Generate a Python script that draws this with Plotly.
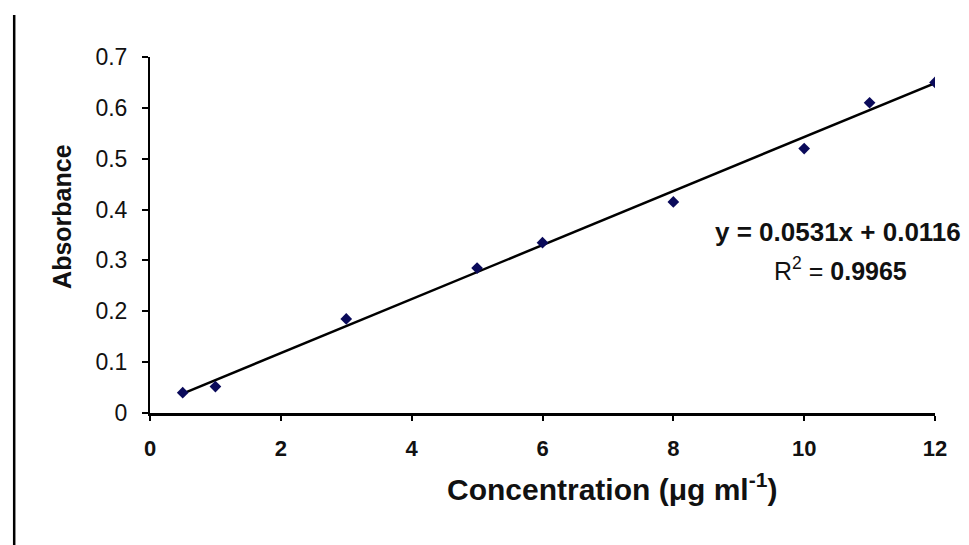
import plotly.graph_objects as go

# Data
concentration = [0.5, 1, 3, 5, 6, 8, 10, 11, 12]
absorbance = [0.040, 0.052, 0.185, 0.285, 0.335, 0.415, 0.520, 0.610, 0.650]
slope = 0.0531
intercept = 0.0116
r_squared = 0.9965
x_ticks = [0, 2, 4, 6, 8, 10, 12]
y_ticks = [0, 0.1, 0.2, 0.3, 0.4, 0.5, 0.6, 0.7]

trend_x = [min(concentration), max(concentration)]
trend_y = [slope * v + intercept for v in trend_x]

FONT = "Liberation Sans, Arial, sans-serif"

fig = go.Figure()
fig.add_trace(go.Scatter(
    x=trend_x, y=trend_y, mode="lines",
    line=dict(color="black", width=2.5), showlegend=False, hoverinfo="skip"))
fig.add_trace(go.Scatter(
    x=concentration, y=absorbance, mode="markers",
    marker=dict(symbol="diamond", size=9, color="#0a0a5a"),
    showlegend=False))

# page body has an 8px margin, so the figure is sized/offset accordingly
fig.update_layout(
    width=961, height=537,
    margin=dict(l=142, r=34, t=49, b=132),
    paper_bgcolor="white", plot_bgcolor="white",
    font=dict(family=FONT, color="#111"),
    xaxis=dict(range=[0, 12], tickvals=x_ticks, showgrid=False, zeroline=False,
               showline=True, linecolor="black", linewidth=3,
               ticks="outside", ticklen=5, tickwidth=2, tickcolor="black",
               tickfont=dict(size=22, family=FONT, weight="bold"), ticklabelstandoff=9),
    yaxis=dict(range=[0, 0.7], tickvals=y_ticks, showgrid=False, zeroline=False,
               showline=True, linecolor="black", linewidth=2,
               ticks="outside", ticklen=6, tickwidth=2, tickcolor="black",
               tickfont=dict(size=23, family=FONT), ticklabelstandoff=10),
    annotations=[
        dict(text="<b>Absorbance</b>", xref="paper", yref="paper", x=-0.112, y=0.551,
             textangle=-90, showarrow=False, font=dict(size=25, family=FONT),
             xanchor="center", yanchor="middle"),
        dict(text="<b>Concentration (μg ml<sup>-1</sup>)</b>", xref="paper", yref="paper",
             x=0.589, y=-0.208, showarrow=False, font=dict(size=30, family=FONT),
             xanchor="center", yanchor="middle"),
        dict(text="<b>y = %.4fx + %.4f</b>" % (slope, intercept), xref="x", yref="y",
             x=10.52, y=0.355, showarrow=False, font=dict(size=26, family=FONT),
             xanchor="center", yanchor="middle"),
        dict(text="R<sup>2</sup> = <b>%.4f</b>" % r_squared, xref="x", yref="y",
             x=10.55, y=0.284, showarrow=False, font=dict(size=25, family=FONT),
             xanchor="center", yanchor="middle"),
    ],
    shapes=[dict(type="line", xref="paper", yref="paper", x0=-0.173, x1=-0.173,
                 y0=1.118, y1=-0.371, line=dict(color="black", width=2.5))],
)

fig.write_html("out.html")
